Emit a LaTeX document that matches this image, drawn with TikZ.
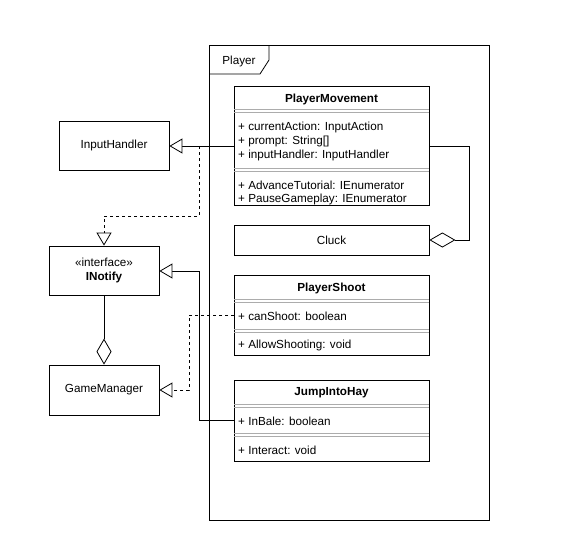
\documentclass[tikz,border=0pt]{standalone}
\usepackage{fontspec}
\setmainfont{Liberation Sans}
\usetikzlibrary{arrows.meta}
\begin{document}
\begin{tikzpicture}[x=1pt,y=-1pt,
  cls/.style={draw, line width=0.8pt, inner sep=0pt},
  hdr/.style={font=\fontsize{11.7}{13}\selectfont\bfseries, inner sep=0pt},
  txt/.style={font=\fontsize{11.7}{13}\selectfont, anchor=west, inner sep=0pt},
  sep/.style={draw=gray!65, line width=0.6pt},
  conn/.style={line width=0.8pt},
  gen/.style={conn, -{Triangle[open, length=13pt, width=15pt, fill=white]}},
  dsh/.style={dash pattern=on 3pt off 3pt},
  agg/.style={conn, -{Diamond[open, length=26pt, width=15pt, fill=white]}}
]
\useasboundingbox (0,0) rectangle (579,557);
% Player frame
\draw[line width=0.8pt] (209,45) rectangle (489,520);
\draw[line width=0.8pt] (269,45) -- (269,60) -- (260,74) -- (209,74);
\node[font=\fontsize{11.7}{13}\selectfont, inner sep=0pt] (plabel) at (239,61) {Player};

% PlayerMovement
\node[cls, minimum width=195pt, minimum height=119pt] (pm) at (331.5,145.5) {};
\node[hdr] (pmh) at (331.5,99) {PlayerMovement};
\draw[sep] (234,109.5) -- (429,109.5) (234,112.5) -- (429,112.5);
\node[txt] (pma1) at (238,127) {+ currentAction: InputAction};
\node[txt] (pma2) at (238,141) {+ prompt: String[]};
\node[txt] (pma3) at (238,155) {+ inputHandler: InputHandler};
\draw[sep] (234,168) -- (429,168) (234,171) -- (429,171);
\node[txt] (pmm1) at (238,185) {+ AdvanceTutorial: IEnumerator};
\node[txt] (pmm2) at (238,199) {+ PauseGameplay: IEnumerator};

% Cluck
\node[cls, minimum width=195pt, minimum height=30pt, font=\fontsize{11.7}{13}\selectfont] (cluck) at (331.5,240) {Cluck};

% PlayerShoot
\node[cls, minimum width=195pt, minimum height=80pt] (ps) at (331.5,315) {};
\node[hdr] (psh) at (331.5,288) {PlayerShoot};
\draw[sep] (234,299.5) -- (429,299.5) (234,302.5) -- (429,302.5);
\node[txt] (psa) at (238,316) {+ canShoot: boolean};
\draw[sep] (234,329.5) -- (429,329.5) (234,332.5) -- (429,332.5);
\node[txt] (psm) at (238,345) {+ AllowShooting: void};

% JumpIntoHay
\node[cls, minimum width=195pt, minimum height=81pt] (jh) at (331.5,420.5) {};
\node[hdr] (jhh) at (331.5,393) {JumpIntoHay};
\draw[sep] (234,404.5) -- (429,404.5) (234,407.5) -- (429,407.5);
\node[txt] (jha) at (238,421) {+ InBale: boolean};
\draw[sep] (234,433.5) -- (429,433.5) (234,436.5) -- (429,436.5);
\node[txt] (jhm) at (238,450) {+ Interact: void};

% left classes
\node[cls, minimum width=110pt, minimum height=49pt, font=\fontsize{11.7}{13}\selectfont] (ih) at (114,145.5) {InputHandler};
\node[cls, minimum width=110pt, minimum height=49pt, align=center, font=\fontsize{11.7}{14.5}\selectfont] (in) at (104,270.5) {«interface»\\\textbf{INotify}};
\node[cls, minimum width=110pt, minimum height=50pt, font=\fontsize{11.7}{13}\selectfont] (gm) at (104,390) {GameManager};

% anchor coordinates
\coordinate (pmL) at (234,146);
\coordinate (pmR) at (429,146);
\coordinate (psL) at (234,315);
\coordinate (jhL) at (234,420);
\coordinate (split) at (199,146);

% connectors
\draw[gen] (pmL) -- (ih.east |- pmL);
\draw[gen, dsh] (split) -- (199,216) -- (in.north |- 0,216) -- (in.north);
\draw[gen] (jhL) -- (199,420) -- (199,271) -- (in.east |- 0,271);
\draw[gen, dsh] (psL) -- (189,315) -- (189,390) -- (gm.east);
\draw[agg] (in.south) -- (gm.north);
\draw[agg] (pmR) -- (469,146) -- (469,240) -- (cluck.east);
\end{tikzpicture}
\end{document}
